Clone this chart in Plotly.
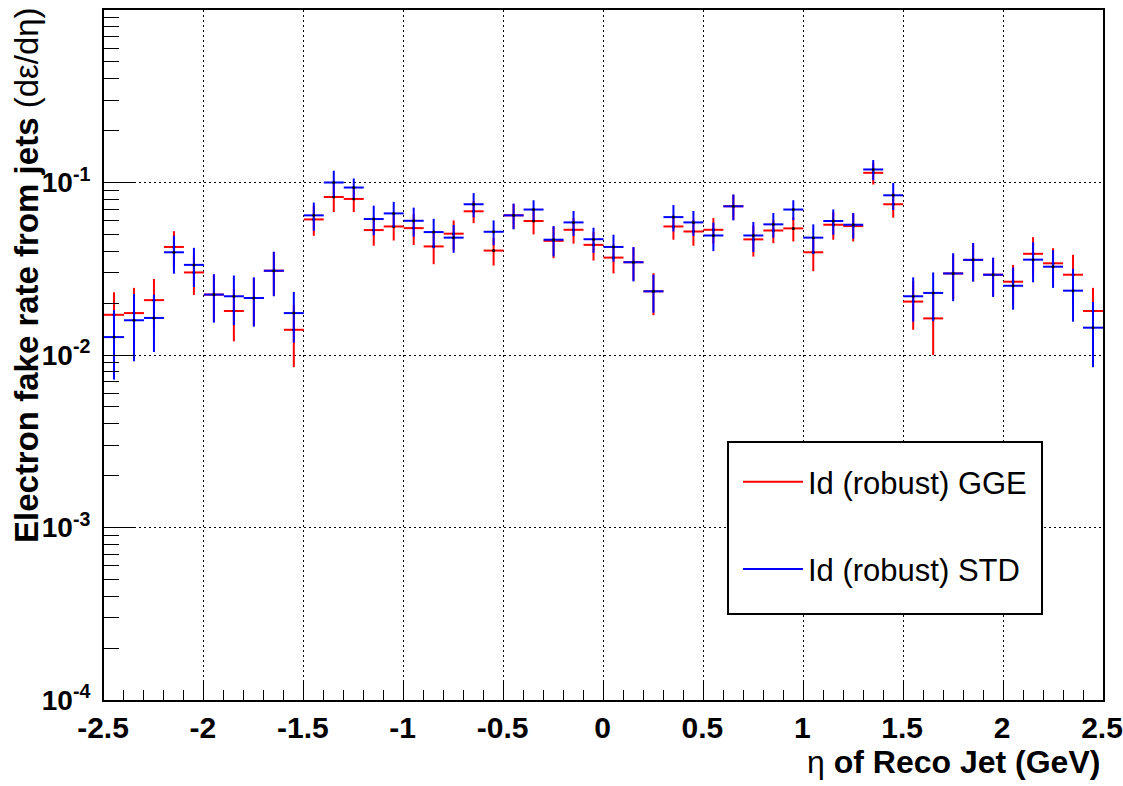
import plotly.graph_objects as go

# ---------------- data ----------------
eta = [-2.45, -2.35, -2.25, -2.15, -2.05, -1.95, -1.85, -1.75, -1.65, -1.55,
       -1.45, -1.35, -1.25, -1.15, -1.05, -0.95, -0.85, -0.75, -0.65, -0.55,
       -0.45, -0.35, -0.25, -0.15, -0.05, 0.05, 0.15, 0.25, 0.35, 0.45,
       0.55, 0.65, 0.75, 0.85, 0.95, 1.05, 1.15, 1.25, 1.35, 1.45,
       1.55, 1.65, 1.75, 1.85, 1.95, 2.05, 2.15, 2.25, 2.35, 2.45]
half_bin = [0.05] * 50

gge_val = [0.0171, 0.0175, 0.0208, 0.0423, 0.0301, 0.0224, 0.0180, 0.0214, 0.0308, 0.0140,
           0.0611, 0.0824, 0.0803, 0.0530, 0.0556, 0.0544, 0.0426, 0.0505, 0.0681, 0.0403,
           0.0645, 0.0598, 0.0459, 0.0532, 0.0435, 0.0367, 0.0345, 0.0234, 0.0556, 0.0520,
           0.0532, 0.0728, 0.0468, 0.0527, 0.0542, 0.0394, 0.0569, 0.0559, 0.1138, 0.0748,
           0.0204, 0.0163, 0.0297, 0.0356, 0.0292, 0.0266, 0.0386, 0.0340, 0.0292, 0.0180]
gge_err = [0.0060, 0.0070, 0.0068, 0.0099, 0.0078, 0.0068, 0.0060, 0.0066, 0.0087, 0.0055,
           0.0120, 0.0150, 0.0130, 0.0100, 0.0095, 0.0110, 0.0090, 0.0098, 0.0100, 0.0073,
           0.0105, 0.0098, 0.0095, 0.0090, 0.0082, 0.0070, 0.0075, 0.0064, 0.0090, 0.0090,
           0.0090, 0.0120, 0.0096, 0.0082, 0.0087, 0.0088, 0.0103, 0.0104, 0.0165, 0.0123,
           0.0064, 0.0063, 0.0086, 0.0088, 0.0073, 0.0067, 0.0096, 0.0076, 0.0089, 0.0065]

std_val = [0.0127, 0.0159, 0.0164, 0.0394, 0.0333, 0.0224, 0.0219, 0.0214, 0.0308, 0.0175,
           0.0645, 0.1000, 0.0935, 0.0614, 0.0662, 0.0600, 0.0516, 0.0479, 0.0748, 0.0518,
           0.0645, 0.0697, 0.0466, 0.0587, 0.0469, 0.0423, 0.0345, 0.0234, 0.0630, 0.0587,
           0.0493, 0.0728, 0.0493, 0.0572, 0.0697, 0.0479, 0.0598, 0.0569, 0.1190, 0.0843,
           0.0219, 0.0229, 0.0297, 0.0356, 0.0292, 0.0252, 0.0357, 0.0325, 0.0236, 0.0144]
std_err = [0.0055, 0.0067, 0.0060, 0.0098, 0.0085, 0.0070, 0.0070, 0.0068, 0.0089, 0.0057,
           0.0120, 0.0170, 0.0120, 0.0120, 0.0110, 0.0115, 0.0100, 0.0088, 0.0120, 0.0085,
           0.0110, 0.0092, 0.0093, 0.0097, 0.0078, 0.0075, 0.0078, 0.0058, 0.0110, 0.0097,
           0.0093, 0.0125, 0.0097, 0.0093, 0.0092, 0.0093, 0.0100, 0.0096, 0.0160, 0.0150,
           0.0063, 0.0072, 0.0092, 0.0090, 0.0075, 0.0069, 0.0093, 0.0080, 0.0080, 0.0059]

series_names = ["Id (robust) GGE", "Id (robust) STD"]
series_colors = ["#ff0000", "#0000ff"]

y_tickvals = [1e-4, 1e-3, 1e-2, 1e-1]
y_ticktext = ["10<sup>-4</sup>", "10<sup>-3</sup>", "10<sup>-2</sup>", "10<sup>-1</sup>"]
y_minor = [k * 10.0 ** e for e in (-4, -3, -2, -1) for k in range(2, 10)]
x_tickvals = [-2.5, -2, -1.5, -1, -0.5, 0, 0.5, 1, 1.5, 2, 2.5]
x_ticktext = ["-2.5", "-2", "-1.5", "-1", "-0.5", "0", "0.5", "1", "1.5", "2", "2.5"]

FONT = "Liberation Sans, Arial, Helvetica, sans-serif"

# ---------------- figure ----------------
W, H = 1123, 786
L, R, T, B = 104, 20, 10, 86
pw, ph = W - L - R, H - T - B

def px_x(p):
    return (p - L) / pw

def px_y(p):
    return (H - B - p) / ph

fig = go.Figure()

for vals, errs, name, col in [(gge_val, gge_err, series_names[0], series_colors[0]),
                              (std_val, std_err, series_names[1], series_colors[1])]:
    fig.add_trace(go.Scatter(
        x=eta, y=vals, mode="markers", showlegend=False,
        marker=dict(size=3, color="black"),
        error_x=dict(type="data", array=half_bin, color=col, thickness=2, width=0),
        error_y=dict(type="data", array=errs, color=col, thickness=2, width=0),
        hoverinfo="skip",
    ))

for i, (name, col) in enumerate(zip(series_names, series_colors)):
    fig.add_trace(go.Scatter(
        x=[None], y=[None], mode="lines", name=name,
        line=dict(color=col, width=2), legendgroup=f"g{i}", showlegend=True,
    ))

# legend box (opaque, framed)
fig.add_shape(type="rect", xref="paper", yref="paper",
              x0=px_x(728), x1=px_x(1042), y0=px_y(614), y1=px_y(442),
              line=dict(color="black", width=2), fillcolor="white", layer="above")

fig.update_layout(
    width=W, height=H,
    margin=dict(l=L, r=R, t=T, b=B, pad=0, autoexpand=False),
    paper_bgcolor="white", plot_bgcolor="white",
    font=dict(family=FONT, size=31, color="black"),
    showlegend=True,
    legend=dict(
        x=px_x(738), y=px_y(455), xanchor="left", yanchor="top",
        bgcolor="rgba(0,0,0,0)", borderwidth=0,
        font=dict(family=FONT, size=31, color="black"),
        tracegroupgap=44, itemwidth=60,
    ),
    xaxis=dict(
        range=[-2.5, 2.5], showline=True, linecolor="black", linewidth=2, mirror=True,
        ticks="inside", ticklen=20, tickwidth=1, tickcolor="black", automargin=False,
        tickvals=x_tickvals, ticktext=x_ticktext, ticklabeloverflow="allow",
        ticklabelshift=-1,
        tickfont=dict(family=FONT, size=30, color="black", weight="bold"),
        showgrid=True, gridcolor="black", gridwidth=1, griddash="2px,3px",
        minor=dict(dtick=0.1, tick0=0, ticks="inside", ticklen=10, tickwidth=1,
                   tickcolor="black", showgrid=False),
        zeroline=False,
    ),
    yaxis=dict(
        type="log", range=[-4, 0], showline=True, linecolor="black", linewidth=2, mirror=True,
        ticks="inside", ticklen=30, tickwidth=1, tickcolor="black", automargin=False,
        tickvals=y_tickvals, ticktext=y_ticktext, ticklabelstandoff=6,
        tickfont=dict(family=FONT, size=28, color="black", weight="bold"),
        showgrid=True, gridcolor="black", gridwidth=1, griddash="2px,3px",
        minor=dict(tickvals=y_minor, ticks="inside", ticklen=15, tickwidth=1,
                   tickcolor="black", showgrid=False),
        zeroline=False,
    ),
)

fig.add_annotation(
    text="<b>Electron fake rate from jets </b>(d\u03b5/d\u03b7)",
    xref="paper", yref="paper", x=px_x(26), y=px_y(5),
    xanchor="center", yanchor="top", textangle=-90, showarrow=False,
    font=dict(family=FONT, size=33, color="black"),
)
fig.add_annotation(
    text="\u03b7<b> of Reco Jet (GeV)</b>",
    xref="paper", yref="paper", x=px_x(1102), y=px_y(762),
    xanchor="right", yanchor="middle", showarrow=False,
    font=dict(family=FONT, size=32, color="black"),
)

fig.write_html("out.html")
